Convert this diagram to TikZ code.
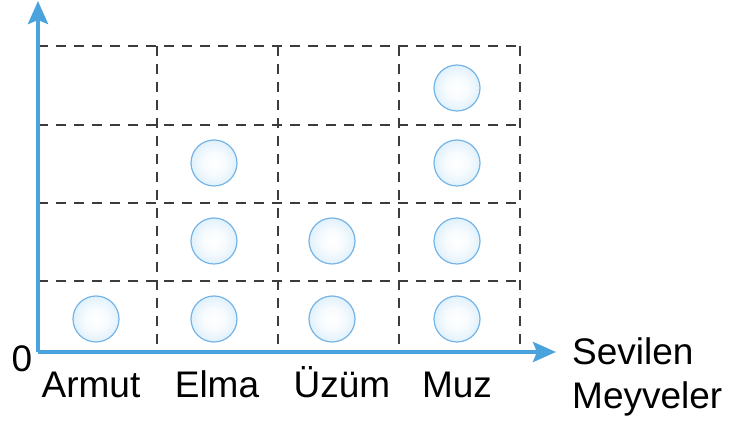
\documentclass[tikz,border=0pt]{standalone}
\usepackage{fontspec}
\setmainfont{Liberation Sans}
\usetikzlibrary{arrows.meta}

\definecolor{axisblue}{HTML}{4BA3DD}
\definecolor{bubbleedge}{HTML}{74B4E6}
\definecolor{bubbleout}{HTML}{B4DCF5}
\definecolor{gridgray}{HTML}{3C3C3C}
\pgfdeclareradialshading{bubble}{\pgfpoint{0bp}{0bp}}{color(0bp)=(white); color(12bp)=(white!90!bubbleout); color(50bp)=(bubbleout)}

\begin{document}
\begin{tikzpicture}[x=1pt,y=-1pt]
\tikzstyle{every node}+=[inner sep=0pt,font=\fontsize{37}{42}\selectfont]
\tikzstyle{gridline}=[gridgray,line width=1.6pt,dash pattern=on 10pt off 8pt]
\tikzstyle{axisline}=[axisblue,line width=4pt,-{Stealth[length=23pt,width=20pt,inset=4pt]}]
\tikzstyle{bubble}=[circle,draw=bubbleedge,line width=1.2pt,shading=bubble,minimum size=46pt]
\useasboundingbox (0,0) rectangle (729,427);
% dashed grid
\draw [gridline] (38,46) -- (520,46);
\draw [gridline] (38,125) -- (520,125);
\draw [gridline] (38,203) -- (520,203);
\draw [gridline] (38,281) -- (520,281);
\draw [gridline] (157,46) -- (157,352);
\draw [gridline] (278,46) -- (278,352);
\draw [gridline] (399,46) -- (399,352);
\draw [gridline] (520,46) -- (520,352);
% axes
\coordinate (origin) at (38,352);
\coordinate (ytop) at (38,1);
\coordinate (xend) at (556,352);
\draw [axisline] (origin) -- (ytop);
\draw [axisline] (origin) -- (xend);
\node (zero) [anchor=base] at (22,372) {0};
% fruits
\node (armut) [anchor=base] at (91,398) {Armut};
\node (elma) [anchor=base] at (217,398) {Elma};
\node (uzum) [anchor=base] at (342,398) {Üzüm};
\node (muz) [anchor=base] at (457,398) {Muz};
\node (sevilen) [anchor=base west] at (572,365) {Sevilen};
\node (meyveler) [anchor=base west] at (572,409) {Meyveler};
% bubbles
\node (armut1) [bubble] at (96,319) {};
\node (elma1) [bubble] at (214,319) {};
\node (elma2) [bubble] at (214,241) {};
\node (elma3) [bubble] at (214,163) {};
\node (uzum1) [bubble] at (332,319) {};
\node (uzum2) [bubble] at (332,241) {};
\node (muz1) [bubble] at (457,319) {};
\node (muz2) [bubble] at (457,241) {};
\node (muz3) [bubble] at (457,163) {};
\node (muz4) [bubble] at (457,88) {};
\end{tikzpicture}
\end{document}
